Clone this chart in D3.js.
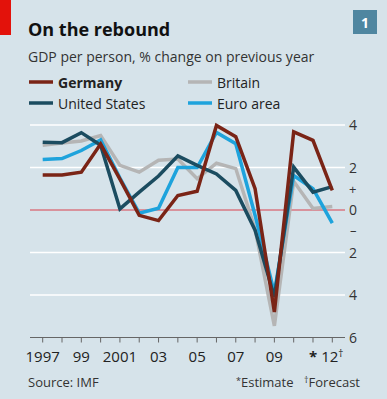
<!DOCTYPE html>
<html>
<head>
<meta charset="utf-8">
<script src="https://cdn.jsdelivr.net/npm/d3@7"></script>
<style>
  body { margin: 0; background: #d6e3ea; }
  text { font-family: "Open Sans", sans-serif; }
</style>
</head>
<body>
<div id="chart"></div>
<script>
var width = 387, height = 399;

// years on the x axis
var years = d3.range(1997, 2013);

// GDP per person, % change on previous year
var germany      = [1.65, 1.65, 1.78, 3.1, 1.45, -0.25, -0.5, 0.68, 0.88, 3.98, 3.45, 1.0, -4.8, 3.68, 3.28, 0.92];
var unitedStates = [3.19, 3.17, 3.64, 3.05, 0.05, 0.84, 1.6, 2.55, 2.1, 1.7, 0.92, -0.95, -4.1, 2.02, 0.84, 1.1];
var britain      = [3.05, 3.15, 3.25, 3.5, 2.1, 1.78, 2.34, 2.4, 1.47, 2.2, 1.95, -0.9, -5.45, 1.35, 0.07, 0.16];
var euroArea     = [2.38, 2.42, 2.8, 3.3, 1.5, -0.15, 0.08, 2.0, 2.0, 3.65, 3.12, -0.25, -3.9, 1.62, 1.0, -0.62];

var yTicks = [4, 2, 0, -2, -4, -6];
var yTickLabels = ["4", "2", "0", "2", "4", "6"];
var xTickLabels = {1997: "1997", 1999: "99", 2001: "2001", 2003: "03", 2005: "05", 2007: "07", 2009: "09", 2011: "*", 2012: "12"};

var series = [
  {name: "Britain", values: britain, color: "#b5b5b5"},
  {name: "Euro area", values: euroArea, color: "#1ea3dc"},
  {name: "United States", values: unitedStates, color: "#1b4c60"},
  {name: "Germany", values: germany, color: "#7a2416"}
];

var svg = d3.select("#chart").append("svg")
  .attr("width", width)
  .attr("height", height);

svg.append("rect").attr("width", width).attr("height", height).attr("fill", "#d6e3ea");

// red tag top left
svg.append("rect").attr("x", 0).attr("y", 0).attr("width", 11).attr("height", 35).attr("fill", "#e3120b");

// chart number box
svg.append("rect").attr("x", 353).attr("y", 10).attr("width", 24).attr("height", 24).attr("fill", "#4f86a0");
svg.append("text").attr("x", 365).attr("y", 28).attr("text-anchor", "middle")
  .attr("fill", "#fff").style("font-weight", "bold").style("font-size", "14px").text("1");

svg.append("text").attr("x", 28).attr("y", 36)
  .style("font-weight", "bold").style("font-size", "18px").attr("fill", "#111")
  .text("On the rebound");

svg.append("text").attr("x", 28).attr("y", 62)
  .style("font-size", "14px").attr("fill", "#333")
  .text("GDP per person, % change on previous year");

// legend
var legend = [
  {name: "Germany", color: "#7a2416", x: 29, y: 82, bold: true},
  {name: "Britain", color: "#b5b5b5", x: 188, y: 82},
  {name: "United States", color: "#1b4c60", x: 29, y: 103},
  {name: "Euro area", color: "#1ea3dc", x: 188, y: 103}
];
legend.forEach(function (d) {
  svg.append("line").attr("x1", d.x).attr("x2", d.x + 24).attr("y1", d.y).attr("y2", d.y)
    .attr("stroke", d.color).attr("stroke-width", 3.5);
  svg.append("text").attr("x", d.x + 29).attr("y", d.y + 6)
    .style("font-size", "14px").style("font-weight", d.bold ? "bold" : "normal")
    .attr("fill", "#222").text(d.name);
});

var x = d3.scaleLinear().domain([1997, 2012]).range([42.7, 332.3]);
var y = d3.scaleLinear().domain([-6, 4]).range([337.5, 125]);
var left = 30, right = 345;

// grid lines
yTicks.forEach(function (t, i) {
  if (t !== 0 && t !== -6) {
    svg.append("line").attr("x1", left).attr("x2", right).attr("y1", y(t)).attr("y2", y(t))
      .attr("stroke", "#fff").attr("stroke-width", 1.5);
  }
  svg.append("text").attr("x", 349).attr("y", y(t) + 5)
    .style("font-size", "14px").attr("fill", "#333").text(yTickLabels[i]);
});
svg.append("text").attr("x", 349).attr("y", y(1) + 5).style("font-size", "13px").attr("fill", "#333").text("+");
svg.append("text").attr("x", 350).attr("y", y(-1) + 4).style("font-size", "13px").attr("fill", "#333").text("\u2013");

// x axis
svg.append("line").attr("x1", left).attr("x2", right).attr("y1", y(-6)).attr("y2", y(-6))
  .attr("stroke", "#666").attr("stroke-width", 1.2);
svg.selectAll(".xtick").data(years).enter().append("line")
  .attr("x1", d => x(d)).attr("x2", d => x(d))
  .attr("y1", y(-6)).attr("y2", y(-6) + 5)
  .attr("stroke", "#666").attr("stroke-width", 1);
years.forEach(function (yr) {
  if (xTickLabels[yr]) {
    var t = svg.append("text").attr("x", x(yr)).attr("y", y(-6) + 24)
      .attr("text-anchor", "middle").style("font-size", "15px").attr("fill", "#222")
      .style("font-weight", yr === 2011 ? "bold" : "normal")
      .text(xTickLabels[yr]);
    if (yr === 2012) {
      t.append("tspan").attr("dy", -5).style("font-size", "10px").text("\u2020");
    }
  }
});

// zero line
svg.append("line").attr("x1", left).attr("x2", right).attr("y1", y(0)).attr("y2", y(0))
  .attr("stroke", "#d9424f").attr("stroke-width", 1.2);

var line = d3.line().x((d, i) => x(years[i])).y(d => y(d));
series.forEach(function (s) {
  svg.append("path").attr("d", line(s.values))
    .attr("fill", "none").attr("stroke", s.color).attr("stroke-width", 3.5)
    .attr("stroke-linejoin", "miter");
});

svg.append("text").attr("x", 28).attr("y", 387).style("font-size", "13px").attr("fill", "#333").text("Source: IMF");
var est = svg.append("text").attr("x", 236).attr("y", 387).style("font-size", "13px").attr("fill", "#333");
est.append("tspan").attr("dy", -3).style("font-size", "9px").text("*");
est.append("tspan").attr("dy", 3).text("Estimate");
var fc = svg.append("text").attr("x", 304).attr("y", 387).style("font-size", "13px").attr("fill", "#333");
fc.append("tspan").attr("dy", -4).style("font-size", "9px").text("\u2020");
fc.append("tspan").attr("dy", 4).text("Forecast");
</script>
</body>
</html>
